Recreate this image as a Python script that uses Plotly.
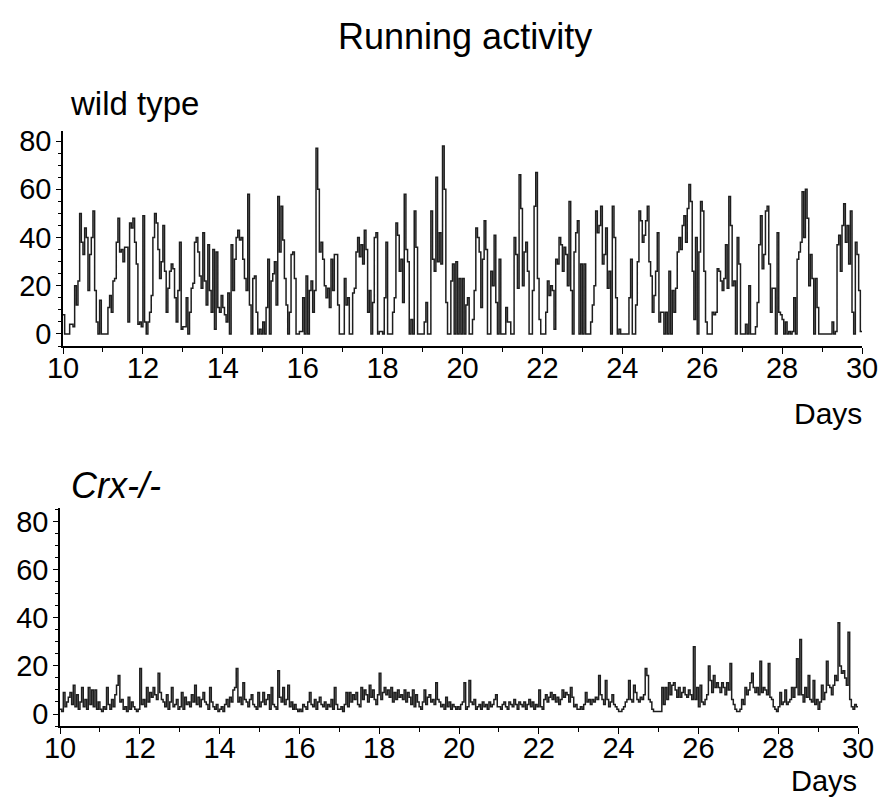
import plotly.graph_objects as go

# page body adds an 8px margin, so the figure is sized to fit inside it
OFF = 8
W, H = 887 - 2 * OFF, 806 - 2 * OFF

# ---- data: hourly activity counts, one row of 24 values per day (days 10..29) ----
days = list(range(10, 30))
wild_type = [
    [8,0,0,0,4,4,3,20,12,22,50,38,33,44,40,18,33,40,51,18,5,0,14,0],
    [0,0,0,11,16,9,22,23,38,48,34,35,30,36,36,5,46,44,48,38,29,4,5,3],
    [49,5,0,5,9,16,40,50,46,35,23,30,45,26,9,19,26,29,27,15,5,18,38,2],
    [3,3,15,0,9,19,21,38,40,34,24,19,42,22,12,37,18,9,35,2,34,11,9,16],
    [11,8,5,17,0,37,18,31,40,43,39,40,31,23,18,58,12,0,23,24,9,0,2,0],
    [5,0,11,31,0,22,25,30,12,57,34,53,39,23,12,0,9,33,34,23,0,0,1,1],
    [15,0,24,0,18,22,9,18,77,60,34,38,31,20,15,19,11,31,18,33,33,12,0,0],
    [0,23,12,15,0,0,17,19,34,40,32,37,29,43,35,9,18,0,13,40,42,0,1,1],
    [0,15,38,0,0,0,9,15,46,41,26,31,13,58,35,30,0,6,0,51,36,0,0,0],
    [0,5,13,0,0,51,31,26,65,30,42,29,78,60,13,0,0,22,29,0,30,0,23,0],
    [23,0,12,15,0,0,6,18,44,40,34,11,31,47,35,0,0,26,20,41,13,0,31,0],
    [0,0,11,5,5,0,0,40,33,19,66,52,20,34,38,26,0,0,18,53,67,23,6,0],
    [0,0,9,22,16,20,18,2,31,29,40,37,26,36,33,20,55,18,0,34,42,47,0,29],
    [0,29,0,0,0,5,12,20,51,42,45,53,29,33,44,19,26,0,53,40,15,0,2,0],
    [0,0,0,0,15,31,0,0,12,30,51,47,38,41,47,53,30,24,9,16,26,42,5,9],
    [9,0,9,0,26,0,18,9,19,34,40,35,45,49,38,52,62,55,26,6,40,0,34,55],
    [51,26,5,0,0,0,9,8,9,27,26,22,18,23,37,19,57,45,20,22,0,40,29,0],
    [0,0,4,0,20,0,0,0,3,13,37,49,27,33,51,53,29,9,19,19,0,42,9,8],
    [6,0,5,0,1,0,1,15,0,31,34,38,59,40,60,48,20,33,23,0,23,11,0,0],
    [0,0,0,0,0,0,5,0,1,37,41,26,45,54,38,45,29,51,9,0,38,33,18,1],
]
wild_type_end = 1

crx = [
    [2,1,9,3,5,7,9,4,12,3,8,2,5,11,3,6,2,11,4,10,3,10,2,5],
    [2,1,3,2,11,4,2,6,3,8,12,16,5,6,2,3,1,7,2,5,3,2,1,2],
    [19,4,6,3,11,5,9,7,11,8,6,17,9,6,5,3,8,2,5,11,3,4,6,2],
    [3,9,2,7,4,5,3,8,5,12,4,7,3,6,9,5,4,2,11,5,3,2,4,1],
    [2,3,1,4,6,3,7,5,10,11,19,5,7,4,13,6,5,3,6,8,4,3,2,9],
    [3,5,9,4,6,8,2,11,4,3,2,18,7,5,11,4,6,12,3,5,2,4,2,1],
    [2,1,4,3,2,5,9,4,3,6,2,5,7,4,3,5,2,4,3,6,2,11,4,2],
    [2,3,1,4,9,3,9,5,8,6,9,4,3,11,6,10,8,5,12,7,10,6,4,8],
    [17,6,9,11,8,10,7,11,5,9,6,10,7,8,6,10,5,9,7,4,10,3,8,5],
    [3,2,5,10,4,7,8,5,6,4,13,6,5,3,4,2,7,3,5,2,4,3,2,3],
    [2,4,5,13,2,3,14,5,4,6,2,3,4,2,5,3,4,2,5,3,4,6,8,3],
    [3,2,4,5,3,2,5,4,3,6,4,2,5,4,3,5,2,4,6,3,5,2,4,3],
    [10,3,2,6,8,5,7,9,6,8,5,7,4,6,10,7,9,8,5,11,7,3,4,2],
    [2,3,2,4,9,5,6,4,6,5,7,6,16,8,6,4,14,6,3,5,8,4,3,2],
    [1,1,2,3,5,6,14,6,5,12,9,6,5,7,6,8,19,16,6,5,2,1,1,1],
    [1,1,11,4,11,6,13,8,12,13,10,7,11,7,9,11,8,7,10,8,6,28,6,11],
    [3,12,5,4,6,8,20,14,9,16,11,13,11,9,13,11,8,13,10,21,6,4,2,1],
    [1,2,6,4,11,8,10,13,17,11,9,11,8,22,9,11,10,8,21,7,6,3,2,1],
    [3,9,4,5,10,4,5,6,11,7,11,23,8,31,8,5,11,7,16,6,5,14,4,6],
    [2,5,12,6,9,22,12,11,8,12,16,14,38,20,17,18,15,12,34,6,3,2,4,3],
]
crx_end = 3

y_ticks = [0, 20, 40, 60, 80]
x_ticks = [10, 12, 14, 16, 18, 20, 22, 24, 26, 28, 30]


def series(rows, end_value):
    xs, ys = [], []
    for d, row in zip(days, rows):
        for h, v in enumerate(row):
            xs.append(d + h / 24.0)
            ys.append(v)
    xs.append(days[-1] + 1)
    ys.append(end_value)
    return xs, ys


def px(x):
    return (x - OFF) / W


def py(y):
    return 1 - (y - OFF) / H


x1, y1 = series(wild_type, wild_type_end)
x2, y2 = series(crx, crx_end)

FONT = "Liberation Sans, Arial, sans-serif"
LINE = "#1e1e1e"

fig = go.Figure()
fig.add_trace(go.Scatter(x=x1, y=y1, mode="lines", line=dict(color=LINE, width=1.5, shape="hv"),
                         xaxis="x", yaxis="y", showlegend=False))
fig.add_trace(go.Scatter(x=x2, y=y2, mode="lines", line=dict(color=LINE, width=1.5, shape="hv"),
                         xaxis="x2", yaxis="y2", showlegend=False))

axis_common = dict(showgrid=False, zeroline=False, showline=True, linecolor="black", linewidth=1.5,
                   ticks="outside", tickcolor="black", tickwidth=1.2, automargin=False,
                   tickfont=dict(family=FONT, size=29, color="black"))

xax = dict(axis_common, range=[10, 30], tickvals=x_ticks, ticklen=6, ticklabelstandoff=-11,
           minor=dict(dtick=1, tick0=10, ticklen=4, ticks="outside", tickcolor="black"))
yax = dict(axis_common, tickvals=y_ticks, ticklen=5, ticklabelstandoff=-1,
           minor=dict(dtick=5, tick0=0, ticklen=3, ticks="outside", tickcolor="black"))

fig.update_layout(
    width=W, height=H,
    margin=dict(l=0, r=0, t=0, b=0, autoexpand=False),
    paper_bgcolor="white", plot_bgcolor="white",
    xaxis=dict(xax, domain=[px(63), px(862)], anchor="y"),
    yaxis=dict(yax, domain=[py(346), py(131)], range=[-5, 84.2], anchor="x"),
    xaxis2=dict(xax, domain=[px(60), px(858)], anchor="y2"),
    yaxis2=dict(yax, domain=[py(726), py(508)], range=[-5, 85.8], anchor="x2"),
    annotations=[
        dict(text="Running activity", x=px(465), y=py(37), xref="paper", yref="paper",
             showarrow=False, xanchor="center", yanchor="middle",
             font=dict(family=FONT, size=36, color="black")),
        dict(text="wild type", x=px(68), y=py(104), xref="paper", yref="paper",
             showarrow=False, xanchor="left", yanchor="middle",
             font=dict(family=FONT, size=33, color="black")),
        dict(text="<i>Crx-/-</i>", x=px(69), y=py(485), xref="paper", yref="paper",
             showarrow=False, xanchor="left", yanchor="middle",
             font=dict(family=FONT, size=36, color="black")),
        dict(text="Days", x=px(864), y=py(414), xref="paper", yref="paper",
             showarrow=False, xanchor="right", yanchor="middle",
             font=dict(family=FONT, size=30, color="black")),
        dict(text="Days", x=px(859), y=py(781), xref="paper", yref="paper",
             showarrow=False, xanchor="right", yanchor="middle",
             font=dict(family=FONT, size=29, color="black")),
    ],
)

fig.write_html("out.html")
